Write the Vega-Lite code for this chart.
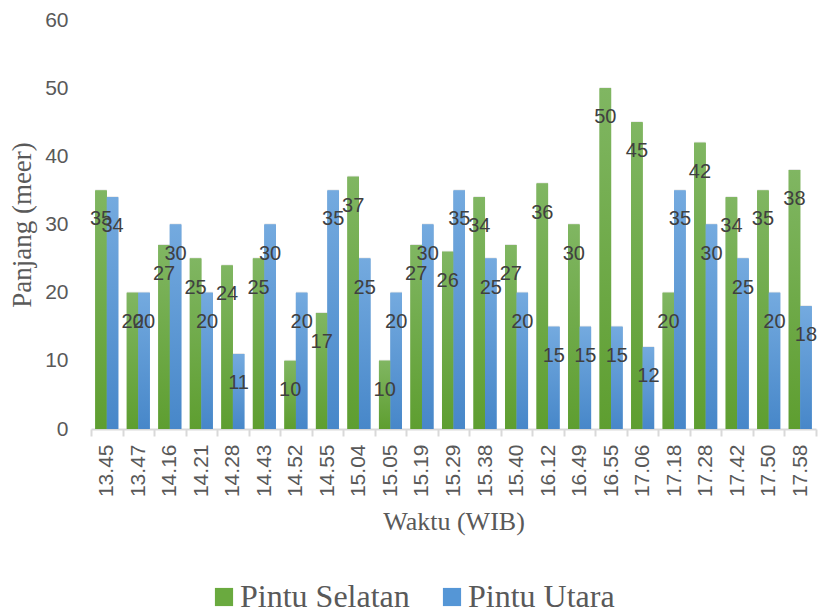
{
  "$schema": "https://vega.github.io/schema/vega-lite/v6.json",
  "width": 725,
  "height": 409,
  "autosize": "none",
  "padding": {"left": 91, "top": 20, "right": 3, "bottom": 185},
  "config": {
    "view": {"stroke": null},
    "font": "Liberation Sans"
  },
  "data": {
    "values": [
      {"waktu": "13.45", "pintu": "Pintu Selatan", "panjang": 35},
      {"waktu": "13.45", "pintu": "Pintu Utara", "panjang": 34},
      {"waktu": "13.47", "pintu": "Pintu Selatan", "panjang": 20},
      {"waktu": "13.47", "pintu": "Pintu Utara", "panjang": 20},
      {"waktu": "14.16", "pintu": "Pintu Selatan", "panjang": 27},
      {"waktu": "14.16", "pintu": "Pintu Utara", "panjang": 30},
      {"waktu": "14.21", "pintu": "Pintu Selatan", "panjang": 25},
      {"waktu": "14.21", "pintu": "Pintu Utara", "panjang": 20},
      {"waktu": "14.28", "pintu": "Pintu Selatan", "panjang": 24},
      {"waktu": "14.28", "pintu": "Pintu Utara", "panjang": 11},
      {"waktu": "14.43", "pintu": "Pintu Selatan", "panjang": 25},
      {"waktu": "14.43", "pintu": "Pintu Utara", "panjang": 30},
      {"waktu": "14.52", "pintu": "Pintu Selatan", "panjang": 10},
      {"waktu": "14.52", "pintu": "Pintu Utara", "panjang": 20},
      {"waktu": "14.55", "pintu": "Pintu Selatan", "panjang": 17},
      {"waktu": "14.55", "pintu": "Pintu Utara", "panjang": 35},
      {"waktu": "15.04", "pintu": "Pintu Selatan", "panjang": 37},
      {"waktu": "15.04", "pintu": "Pintu Utara", "panjang": 25},
      {"waktu": "15.05", "pintu": "Pintu Selatan", "panjang": 10},
      {"waktu": "15.05", "pintu": "Pintu Utara", "panjang": 20},
      {"waktu": "15.19", "pintu": "Pintu Selatan", "panjang": 27},
      {"waktu": "15.19", "pintu": "Pintu Utara", "panjang": 30},
      {"waktu": "15.29", "pintu": "Pintu Selatan", "panjang": 26},
      {"waktu": "15.29", "pintu": "Pintu Utara", "panjang": 35},
      {"waktu": "15.38", "pintu": "Pintu Selatan", "panjang": 34},
      {"waktu": "15.38", "pintu": "Pintu Utara", "panjang": 25},
      {"waktu": "15.40", "pintu": "Pintu Selatan", "panjang": 27},
      {"waktu": "15.40", "pintu": "Pintu Utara", "panjang": 20},
      {"waktu": "16.12", "pintu": "Pintu Selatan", "panjang": 36},
      {"waktu": "16.12", "pintu": "Pintu Utara", "panjang": 15},
      {"waktu": "16.49", "pintu": "Pintu Selatan", "panjang": 30},
      {"waktu": "16.49", "pintu": "Pintu Utara", "panjang": 15},
      {"waktu": "16.55", "pintu": "Pintu Selatan", "panjang": 50},
      {"waktu": "16.55", "pintu": "Pintu Utara", "panjang": 15},
      {"waktu": "17.06", "pintu": "Pintu Selatan", "panjang": 45},
      {"waktu": "17.06", "pintu": "Pintu Utara", "panjang": 12},
      {"waktu": "17.18", "pintu": "Pintu Selatan", "panjang": 20},
      {"waktu": "17.18", "pintu": "Pintu Utara", "panjang": 35},
      {"waktu": "17.28", "pintu": "Pintu Selatan", "panjang": 42},
      {"waktu": "17.28", "pintu": "Pintu Utara", "panjang": 30},
      {"waktu": "17.42", "pintu": "Pintu Selatan", "panjang": 34},
      {"waktu": "17.42", "pintu": "Pintu Utara", "panjang": 25},
      {"waktu": "17.50", "pintu": "Pintu Selatan", "panjang": 35},
      {"waktu": "17.50", "pintu": "Pintu Utara", "panjang": 20},
      {"waktu": "17.58", "pintu": "Pintu Selatan", "panjang": 38},
      {"waktu": "17.58", "pintu": "Pintu Utara", "panjang": 18}
    ]
  },
  "encoding": {
    "x": {
      "field": "waktu",
      "type": "nominal",
      "sort": null,
      "scale": {"paddingInner": 0, "paddingOuter": 0},
      "axis": {
        "title": "Waktu (WIB)",
        "titleFont": "Liberation Serif",
        "titleFontSize": 26,
        "titleFontWeight": "normal",
        "titleColor": "#595959",
        "titlePadding": 12,
        "labelAngle": 270,
        "labelFontSize": 21,
        "labelColor": "#595959",
        "labelPadding": 8,
        "domainColor": "#D9D9D9",
        "domainWidth": 2,
        "tickColor": "#D9D9D9",
        "tickWidth": 2,
        "tickSize": 7,
        "tickBand": "extent",
        "grid": false
      }
    },
    "xOffset": {
      "field": "pintu",
      "type": "nominal",
      "sort": ["Pintu Selatan", "Pintu Utara"],
      "scale": {"paddingInner": 0, "paddingOuter": 0.37}
    },
    "y": {
      "field": "panjang",
      "type": "quantitative",
      "scale": {"domain": [0, 60], "nice": false},
      "axis": {
        "title": "Panjang (meer)",
        "titleFont": "Liberation Serif",
        "titleFontSize": 27,
        "titleFontWeight": "normal",
        "titleColor": "#595959",
        "titlePadding": 8,
        "values": [0, 10, 20, 30, 40, 50, 60],
        "labelFontSize": 21,
        "labelColor": "#595959",
        "labelPadding": 23,
        "domain": false,
        "ticks": false,
        "grid": false
      }
    }
  },
  "layer": [
    {
      "mark": {"type": "bar", "color": "#7F7F7F", "opacity": 0.18, "xOffset": 2.5, "yOffset": -1},
      "encoding": {}
    },
    {
      "mark": {"type": "bar"},
      "encoding": {
        "color": {
          "field": "pintu",
          "type": "nominal",
          "sort": ["Pintu Selatan", "Pintu Utara"],
          "scale": {"domain": ["Pintu Selatan", "Pintu Utara"], "range": ["#6AAA3F", "#5596D6"]},
          "legend": {
            "title": null,
            "orient": "none",
            "direction": "horizontal",
            "legendX": 117,
            "legendY": 561,
            "symbolType": "square",
            "symbolSize": 330,
            "symbolStrokeWidth": 0,
            "labelFont": "Liberation Serif",
            "labelFontSize": 32,
            "labelColor": "#595959",
            "labelOffset": 0,
            "labelLimit": 300,
            "columnPadding": 26
          }
        }
      }
    },
    {
      "mark": {"type": "bar"},
      "encoding": {
        "color": {
          "condition": {
            "test": "datum.pintu === 'Pintu Selatan'",
            "value": {
              "gradient": "linear", "x1": 0, "y1": 0, "x2": 0, "y2": 1,
              "stops": [{"offset": 0, "color": "#80B662"}, {"offset": 1, "color": "#5E9E30"}]
            }
          },
          "value": {
            "gradient": "linear", "x1": 0, "y1": 0, "x2": 0, "y2": 1,
            "stops": [{"offset": 0, "color": "#74AADF"}, {"offset": 1, "color": "#4787C9"}]
          }
        }
      }
    },
    {
      "mark": {"type": "text", "baseline": "middle", "align": "center", "dy": 29, "fontSize": 20, "color": "#404040", "font": "Liberation Sans"},
      "encoding": {
        "text": {"field": "panjang", "type": "quantitative"}
      }
    }
  ]
}
